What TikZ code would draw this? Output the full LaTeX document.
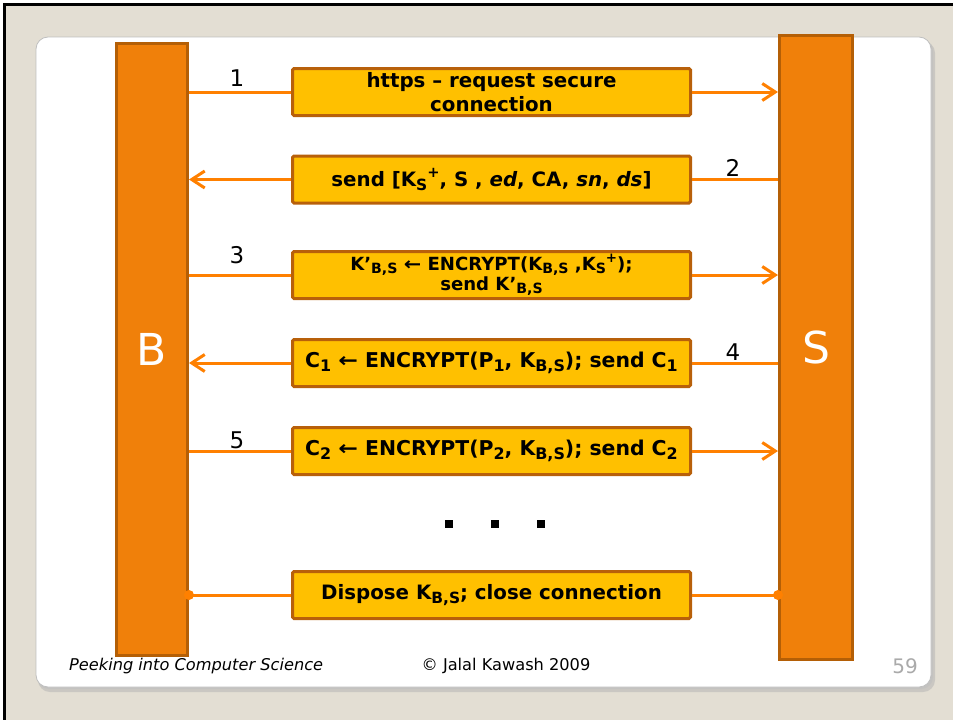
\documentclass[tikz,border=0pt]{standalone}
\usepackage{fontspec}
\setmainfont{DejaVu Sans}
\usetikzlibrary{arrows.meta}

\definecolor{pagebg}{HTML}{E3DED3}
\definecolor{barfill}{HTML}{F0800A}
\definecolor{barline}{HTML}{B45F06}
\definecolor{boxfill}{HTML}{FFC000}
\definecolor{boxline}{HTML}{B8600A}
\definecolor{linkc}{HTML}{FF8000}
\definecolor{pagenum}{HTML}{AAAAAA}

% sub- and superscripts scaled from the surrounding text
\newcommand{\sbx}[1]{\raisebox{-0.3ex}{\scalebox{0.78}{#1}}}
\newcommand{\spx}[1]{\raisebox{0.85ex}{\scalebox{0.74}{#1}}}
% a slightly wider left arrow
\newcommand{\getsarrow}{\scalebox{1.15}[1]{←}}

\begin{document}
\begin{tikzpicture}[x=1pt,y=-1pt,
  bar/.style={draw=barline, fill=barfill, line width=3pt, text=white,
    font=\fontsize{44}{44}\selectfont, inner sep=0pt},
  msg/.style={draw=boxline, fill=boxfill, line width=3pt, minimum width=398pt,
    minimum height=47pt, align=center, inner sep=0pt, rounded corners=1.5pt,
    font=\fontsize{19.8}{24}\selectfont\bfseries},
  link/.style={draw=linkc, line width=3pt},
  tip/.style={-{Straight Barb[length=13pt,width=17pt]}},
  num/.style={font=\fontsize{23}{23}\selectfont, inner sep=0pt},
  dotsq/.style={fill=black, minimum size=8pt, inner sep=0pt},
  foot/.style={inner sep=0pt, font=\fontsize{16.2}{16.2}\selectfont},
]
\useasboundingbox (0,0) rectangle (953,720);

% page background and frame lines
\fill[white] (0,0) rectangle (953,720);
\fill[pagebg] (3,3) rectangle (953,720);
\fill[black] (3,3) rectangle (953,6);
\fill[black] (3,3) rectangle (6,720);

% slide panel with soft shadow
\fill[black!30, opacity=0.5, rounded corners=12pt] (38,41) rectangle (935,692);
\fill[black!25, opacity=0.6, rounded corners=12pt] (37,39) rectangle (933,689);
\filldraw[fill=white, draw=black!25, line width=0.8pt, rounded corners=12pt] (36,37) rectangle (931,687);

% the two parties
\node[bar, minimum width=71pt, minimum height=612pt] (B) at (152,349.5) {B};
\node[bar, minimum width=73pt, minimum height=624pt] (S) at (816,347.5) {S};

% messages
\node[msg] (m1) at (491.5,92) {https – request secure\\connection};
\node[msg] (m2) at (491.5,179.5) {send [K\sbx{S}\spx{+}, S , \textit{ed}, CA, \textit{sn}, \textit{ds}]};
\node[msg, font=\fontsize{18.1}{20}\selectfont\bfseries] (m3) at (491.5,275)
  {K’\sbx{B,S} \getsarrow{} ENCRYPT(K\sbx{B,S} ,K\sbx{S}\spx{+});\\send K’\sbx{B,S}};
\node[msg, font=\fontsize{20.4}{24}\selectfont\bfseries] (m4) at (491.5,363)
  {C\sbx{1} \getsarrow{} ENCRYPT(P\sbx{1}, K\sbx{B,S}); send C\sbx{1}};
\node[msg, font=\fontsize{20.4}{24}\selectfont\bfseries] (m5) at (491.5,451)
  {C\sbx{2} \getsarrow{} ENCRYPT(P\sbx{2}, K\sbx{B,S}); send C\sbx{2}};
\node[msg] (m6) at (491.5,595) {Dispose K\sbx{B,S}; close connection};

% connectors
\draw[link] (B.east |- m1.west) -- (m1.west);
\draw[link, tip] (m1.east) -- (S.west |- m1.east);

\draw[link] (S.west |- m2.east) -- (m2.east);
\draw[link, tip] (m2.west) -- (B.east |- m2.west);

\draw[link] (B.east |- m3.west) -- (m3.west);
\draw[link, tip] (m3.east) -- (S.west |- m3.east);

\draw[link] (S.west |- m4.east) -- (m4.east);
\draw[link, tip] (m4.west) -- (B.east |- m4.west);

\draw[link] (B.east |- m5.west) -- (m5.west);
\draw[link, tip] (m5.east) -- (S.west |- m5.east);

\coordinate (d1) at (B.east |- m6.west);
\coordinate (d2) at (S.west |- m6.east);
\draw[link] (d1) -- (m6.west);
\draw[link] (m6.east) -- (d2);
\fill[linkc] (d1) circle (5pt);
\fill[linkc] (d2) circle (5pt);

% step numbers
\node[num] (n1) at (237,78) {1};
\node[num] (n2) at (733,168) {2};
\node[num] (n3) at (237,255) {3};
\node[num] (n4) at (733,352) {4};
\node[num] (n5) at (237,440) {5};

% continuation marks
\node[dotsq] (e1) at (449,524) {};
\node[dotsq] (e2) at (495,524) {};
\node[dotsq] (e3) at (541,524) {};

% footer
\node[foot, anchor=west, font=\fontsize{16.2}{16.2}\selectfont\itshape] (f1) at (69,666) {Peeking into Computer Science};
\node[foot] (f2) at (506,666) {© Jalal Kawash 2009};
\node[foot, text=pagenum, font=\fontsize{20}{20}\selectfont] (f3) at (905,666) {59};
\end{tikzpicture}
\end{document}
